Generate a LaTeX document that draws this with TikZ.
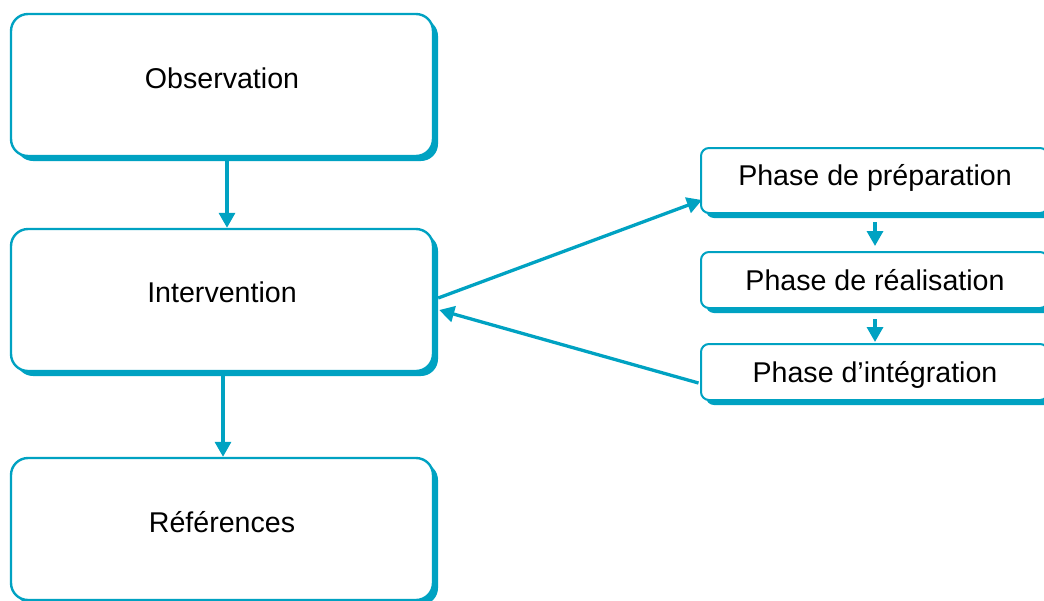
\documentclass[tikz,border=0pt]{standalone}
\usepackage{fontspec}
\setmainfont{Liberation Sans}
\usetikzlibrary{arrows.meta,calc,shadows}
\definecolor{tealc}{RGB}{0,162,194}
\begin{document}
\begin{tikzpicture}[x=1pt,y=-1pt,
  bigbox/.style={draw=tealc, line width=2.4pt, fill=white, rounded corners=17pt,
    minimum width=422pt, minimum height=142pt, inner sep=0pt,
    drop shadow={shadow xshift=5pt, shadow yshift=-5pt, fill=tealc, opacity=1}},
  smallbox/.style={draw=tealc, line width=2pt, fill=white, rounded corners=8pt,
    minimum width=347pt, inner sep=0pt,
    drop shadow={shadow xshift=5pt, shadow yshift=-5pt, fill=tealc, opacity=1}},
  lbl/.style={anchor=base, inner sep=0pt, font=\fontsize{28.6}{34}\selectfont},
  arr/.style={draw=tealc, line width=3.3pt, -{Triangle[length=15pt,width=16pt]}, fill=tealc}]
\useasboundingbox (0,0) rectangle (1044,600);
\clip (0,0) rectangle (1044,600);
% big boxes
\node[bigbox] (obs) at (222,85) {};
\node[bigbox] (int) at (222,300) {};
\node[bigbox] (ref) at (222,529) {};
% small boxes
\node[smallbox, minimum height=65pt] (prep) at (874.5,180.5) {};
\node[smallbox, minimum height=56pt] (real) at (874.5,280) {};
\node[smallbox, minimum height=56pt] (intg) at (874.5,372) {};
% labels
\node[lbl] (tobs) at (222,88) {Observation};
\node[lbl] (tint) at (222,302) {Intervention};
\node[lbl] (tref) at (222,532) {Références};
\node[lbl] (tprep) at (875,185) {Phase de préparation};
\node[lbl] (treal) at (875,290) {Phase de réalisation};
\node[lbl] (tintg) at (875,382) {Phase d’intégration};
% connectors
\draw[arr] ($(obs.south)+(5,0)$) -- ($(int.north)+(5,0)$);
\draw[arr] ($(int.south)+(1,0)$) -- ($(ref.north)+(1,0)$);
\draw[arr, shorten <=8pt, shorten >=5pt] ($(prep.south)+(0.5,0)$) -- ($(real.north)+(0.5,0)$);
\draw[arr, shorten <=10pt, shorten >=1pt] ($(real.south)+(0.5,0)$) -- ($(intg.north)+(0.5,0)$);
\draw[arr] ($(int.east)+(4,-2)$) -- ($(prep.west)+(2,19.5)$);
\draw[arr] ($(intg.west)+(-1.5,11)$) -- ($(int.east)+(5,10)$);
\end{tikzpicture}
\end{document}
